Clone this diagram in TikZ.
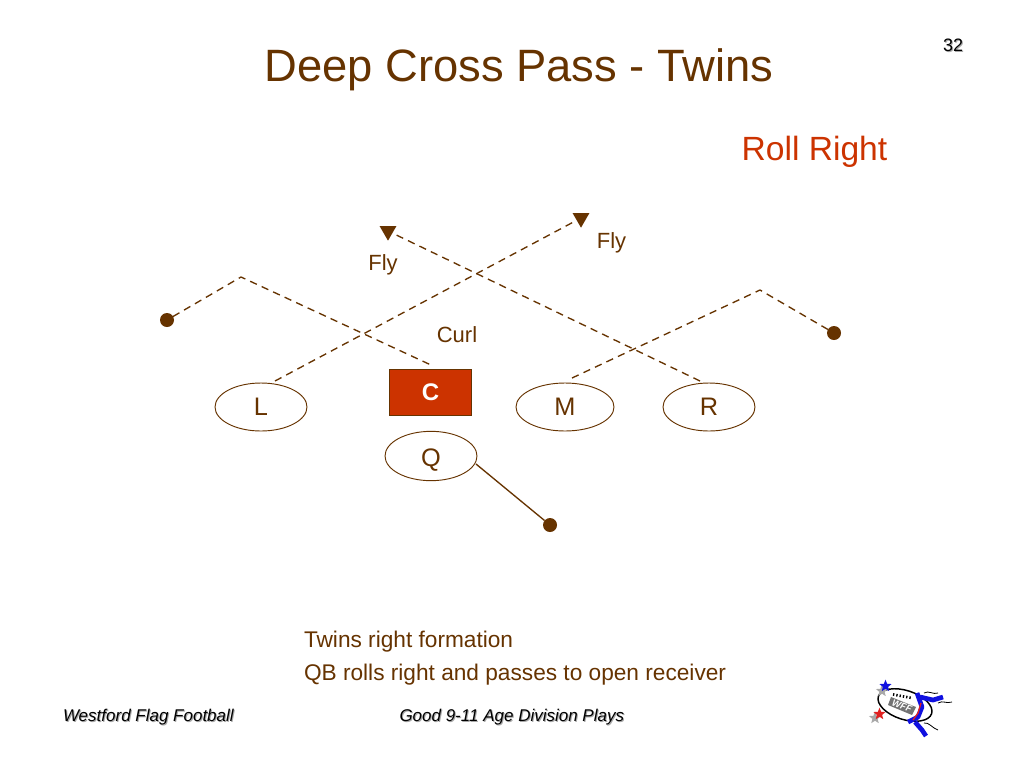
\documentclass[tikz,border=0pt]{standalone}
\usepackage{fontspec}
\setmainfont{Liberation Sans}
\usetikzlibrary{shapes.geometric}
\definecolor{brn}{HTML}{663300}
\definecolor{rd}{HTML}{CC3300}
\definecolor{wblue}{HTML}{1010E0}
\definecolor{wred}{HTML}{E02020}
\definecolor{shad}{HTML}{A8A8A8}
\tikzset{
  x=0.75pt,y=-0.75pt,
  every node/.style={inner sep=0pt,outer sep=0pt},
  player/.style={draw=brn,fill=white,ellipse,line width=0.7pt,text=brn,font=\fontsize{19}{22}\selectfont,minimum height=36pt},
  route/.style={draw=brn,dash pattern=on 5.5pt off 4pt,line width=1pt},
  solidroute/.style={draw=brn,line width=1pt},
  enddot/.style={circle,fill=brn,minimum size=10.5pt},
  tip/.style={regular polygon,regular polygon sides=3,shape border rotate=180,fill=brn,minimum size=14.5pt},
  lab/.style={text=brn,font=\fontsize{16.5}{20}\selectfont,anchor=base},
  desc/.style={text=brn,font=\fontsize{17}{20}\selectfont,anchor=base west},
  foot/.style={font=\fontsize{12.75}{16}\selectfont\itshape,anchor=base west},
  logostar/.style={star,star points=5,star point ratio=2.3,minimum size=9.5pt}
}
\begin{document}
\begin{tikzpicture}
\useasboundingbox (0,0) rectangle (1024,768);
\fill[white] (0,0) rectangle (1024,768);
% title and labels
\node[text=brn,font=\fontsize{34}{40}\selectfont,anchor=base] (title) at (519,81) {Deep Cross Pass - Twins};
\node[text=rd,font=\fontsize{25.2}{28}\selectfont,anchor=base] (roll) at (814.5,160) {Roll Right};
\node[lab] (flyl) at (383,270) {Fly};
\node[lab] (flyr) at (611.5,248) {Fly};
\node[lab] (curl) at (457,342) {Curl};
% page number
\node[text=shad,font=\fontsize{13.5}{16}\selectfont,anchor=base] (pgs) at (954,52) {32};
\node[text=black,font=\fontsize{13.5}{16}\selectfont,anchor=base] (pg) at (953,51) {32};
% players
\node[player,minimum width=69pt] (L) at (261,407) {L};
\node[player,minimum width=73.5pt] (M) at (565,407) {M};
\node[player,minimum width=69pt] (R) at (709,407) {R};
\node[player,minimum width=69pt,minimum height=37pt] (Q) at (431,456) {\raisebox{-7.5pt}[0pt][0pt]{Q}};
\node[draw=brn,fill=rd,minimum width=61.5pt,minimum height=34.5pt,line width=0.4pt,text=white,font=\fontsize{18}{22}\selectfont\bfseries] (C) at (430.5,392) {C};
% route ends
\node[enddot] (d1) at (167,320) {};
\node[enddot] (d2) at (834,333) {};
\node[enddot] (d3) at (550,525) {};
\node[tip] (t1) at (388,231) {};
\node[tip] (t2) at (581,218) {};
\coordinate (k1) at (241,277);
\coordinate (k2) at (760,290);
\coordinate (sC) at (431,365);
\coordinate (sL) at (275,381);
\coordinate (sM) at (572,378);
\coordinate (sR) at (700,381);
\coordinate (sQ) at (476,464);
% routes
\draw[route] (d1) -- (k1) -- (sC);
\draw[route] (sL) -- (t2);
\draw[route] (sM) -- (k2) -- (d2);
\draw[route] (sR) -- (t1);
\draw[solidroute] (sQ) -- (d3);
% description
\node[desc] (desc1) at (304,647) {Twins right formation};
\node[desc] (desc2) at (304,680) {QB rolls right and passes to open receiver};
% footer
\node[foot,text=shad] (f1s) at (64,722) {Westford Flag Football};
\node[foot,text=black] (f1) at (63,721) {Westford Flag Football};
\node[foot,text=shad] (f2s) at (400.5,722) {Good 9-11 Age Division Plays};
\node[foot,text=black] (f2) at (399.5,721) {Good 9-11 Age Division Plays};
% logo
\draw[black,line width=1.1pt,fill=white,rotate around={-18:(905,705)}] (905,705) ellipse (28 and 14.5);
\draw[black,dash pattern=on 1pt off 1.5pt,line width=2pt] (893,694.5) -- (912,698);
\fill[black!55] (891,697) -- (916,707) -- (912,715) -- (888,705) -- cycle;
\node[text=white,font=\fontsize{7}{7}\selectfont\bfseries\itshape,rotate=-20] (wff) at (902,705.5) {WFF};
\node[logostar,fill=shad] (s1s) at (882,691) {};
\node[logostar,fill=shad] (s2s) at (875,718) {};
\node[logostar,fill=wblue] (s1) at (885.5,686) {};
\node[logostar,fill=wred] (s2) at (879.5,714) {};
\draw[wblue,line width=3.5pt,line join=round] (917,693) -- (922,707) -- (918,717) -- (908,722);
\draw[wblue,line width=3.5pt,line join=round] (915,722) -- (922,730) -- (926,736);
\draw[wblue,line width=3.5pt,line join=round] (920,697) -- (933,700) -- (943,697);
\draw[wred,line width=1pt] (921,703) -- (918,713) -- (913,720);
\draw[black,line width=0.6pt] (924,693) .. controls (929,690) and (933,695) .. (938,693);
\draw[black,line width=0.6pt] (938,703) .. controls (943,700) and (946,704) .. (952,702);
\draw[black,line width=0.6pt] (924,723) .. controls (929,722) and (932,728) .. (938,730);
\end{tikzpicture}
\end{document}
